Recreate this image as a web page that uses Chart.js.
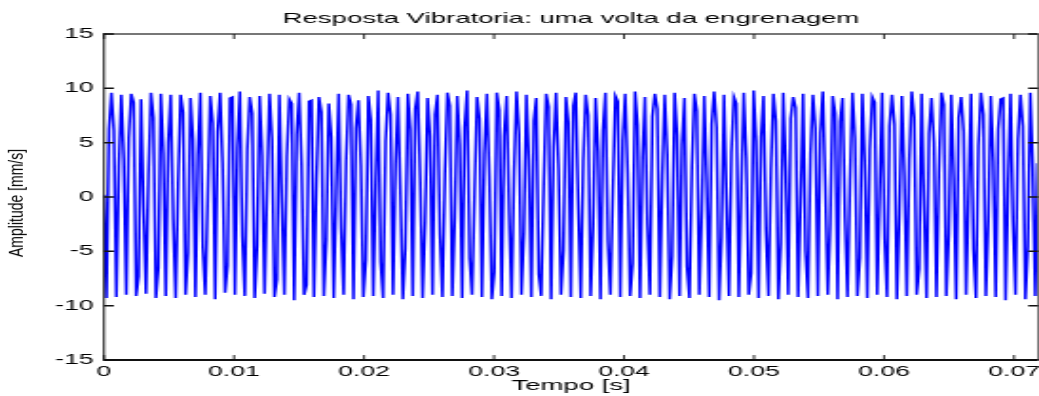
<!DOCTYPE html>
<html>
<head>
<meta charset="utf-8">
<script src="https://cdn.jsdelivr.net/npm/chart.js@4.4.1/dist/chart.umd.min.js"></script>
<style>
  html, body { margin: 0; padding: 0; background: #fff; overflow: hidden; }
  #palco { position: relative; width: 1039px; height: 396px; }
  /* a figura original esta esticada na horizontal */
  #esticado { position: absolute; left: 0; top: 0; width: 547px; height: 396px; transform: scaleX(1.8995); transform-origin: 0 0; }
  #rotuloY { position: absolute; left: 16px; top: 203px; font: 14px 'Liberation Sans', Arial, sans-serif; white-space: nowrap; color: #000;
             transform: translate(-50%, -50%) rotate(-90deg) scaleY(1.4); }
</style>
</head>
<body>
<div id="palco">
  <div id="esticado"><canvas id="grafico" width="547" height="396"></canvas></div>
  <div id="rotuloY">Amplitude [mm/s]</div>
</div>
<script>
// passo de amostragem [s]
const passo = 0.00019;
const tempoMax = 0.07185;

// amplitude [mm/s], amostra a amostra
const amplitude = [
  0.2, -9.3, 6.2,
  9.6, 6.1, -9.2, 2.8,   9.4, 3.5, -9.0, 5.4,   9.5, 8.7, -9.1, -7.3,  9.0, -1.0, -8.9, 2.0,
  9.6, 7.3, -9.3, -6.5,  9.5, 4.0, -9.1, 5.0,   9.4, -2.1, -9.3, 1.2,  9.4, 7.8, -9.0, -5.1,
  9.1, 5.3, -9.2, 3.8,   9.6, -4.6, -9.0, 0.0,  9.3, 6.8, -9.4, 6.0,   9.6, 3.1, -8.8, -6.3,
  9.1, 9.2, -9.0, 4.5,   9.7, -3.6, -9.1, 4.4,  9.2, 7.7, -9.3, -4.4,  9.3, 3.8, -8.9, 0.9,
  9.5, 5.3, -9.2, -7.6,  9.4, -0.5, -9.0, 3.7,  9.0, 8.6, -9.5, 5.7,   9.6, 3.0, -9.0, -8.1,
  8.8, 8.9, -9.2, 1.6,   9.2, 7.8, -9.1, -3.9,  8.6, 5.5, -9.3, 0.5,   9.5, -2.9, -9.0, 3.3,
  9.4, 8.5, -9.4, 6.3,   8.9, 2.9, -9.2, -5.8,  9.3, 7.1, -9.1, 1.3,   9.8, -6.0, -9.3, 5.1,
  9.6, 7.6, -9.0, 3.0,   9.2, 0.2, -9.4, -4.7,  9.5, 6.2, -9.1, 8.1,   9.7, 1.6, -9.3, -2.2,
  9.1, 5.6, -9.0, 7.6,   9.4, -3.4, -9.2, 2.1,  9.6, 8.4, -9.1, -1.8,  9.3, 4.8, -9.3, 6.4,
  9.8, -5.6, -9.0, 0.3,  9.2, 7.2, -9.2, 3.9,   9.5, 1.9, -9.4, -6.9,  9.6, 8.0, -9.1, 5.6,
  9.3, -1.4, -9.3, 2.4,  9.7, 5.9, -9.0, -3.2,  9.4, 3.4, -9.2, 7.0,   9.1, -7.1, -9.1, 1.0,
  9.5, 8.3, -9.4, 4.6,   9.6, 2.6, -9.0, -4.9,  9.2, 6.9, -9.2, 8.4,   9.6, -0.8, -9.3, 3.3,
  9.4, 7.5, -9.1, -2.7,  9.1, 4.2, -9.4, 6.1,   9.6, -4.1, -9.0, 0.6,  9.3, 8.8, -9.2, 5.2,
  9.5, 2.2, -9.1, -6.1,  9.7, 6.6, -9.3, 3.6,   9.2, -2.5, -9.0, 7.4,  9.5, 8.1, -9.2, 1.9,
  9.4, 3.9, -9.4, -5.4,  9.6, 5.7, -9.1, 4.8,   9.1, -6.4, -9.3, 2.7,  9.5, 7.9, -9.0, -1.1,
  9.3, 1.4, -9.2, 6.7,   9.7, 6.4, -9.5, -3.6,  9.4, -0.3, -9.1, 4.1,  9.2, 8.6, -9.2, 0.8,
  9.6, 3.6, -9.0, -7.0,  9.8, 5.1, -9.3, 5.5,   9.3, -3.0, -9.1, 2.5,  9.5, 7.0, -9.4, -4.2,
  9.6, 2.4, -9.0, 7.2,   9.2, 8.2, -9.2, -0.4,  9.5, -5.0, -9.3, 3.9,  9.4, 6.3, -9.1, 5.9,
  9.7, 1.0, -9.0, -2.4,  9.3, 7.7, -9.4, 6.9,   9.1, -1.9, -9.2, 1.5,  9.6, 5.4, -9.1, -5.6,
  9.5, 3.2, -9.3, 4.3,   9.2, 8.7, -9.0, 0.1,   9.6, -3.8, -9.2, 6.5,  9.4, 6.7, -9.4, -1.5,
  9.3, 2.0, -9.1, 3.4,   9.7, 7.3, -9.0, -6.6,  9.5, -0.9, -9.3, 5.8,  9.1, 5.0, -9.2, 2.2,
  9.6, 8.5, -9.1, -3.3,  9.4, 1.7, -9.4, 7.3,   9.2, 6.0, -9.0, 0.4,   9.5, -4.8, -9.3, 4.7,
  9.6, 7.6, -9.1, -2.0,  9.3, 3.3, -9.2, 6.2,   9.0, 9.1, -9.5, 1.1,   9.5, -2.3, -9.0, 5.3,
  9.4, 6.5, -9.4, -4.5,  9.6, 2.7, -9.1, 3.1
];

const xTicks = [0, 0.01, 0.02, 0.03, 0.04, 0.05, 0.06, 0.07];
const yTicks = [-15, -10, -5, 0, 5, 10, 15];

const tempo = amplitude.map((_, i) => i * passo);
const pontos = amplitude.map((v, i) => ({ x: tempo[i], y: v }));

const fonte = "'Liberation Sans', Arial, sans-serif";

// caixa estilo matlab com marcas para dentro
const moldura = {
  id: 'moldura',
  afterDatasetsDraw(chart) {
    const { ctx, chartArea: { left, right, top, bottom }, scales: { x, y } } = chart;
    ctx.save();
    ctx.lineCap = 'butt';
    ctx.strokeStyle = '#777';
    ctx.lineWidth = 2;
    ctx.beginPath(); ctx.moveTo(left, top); ctx.lineTo(right, top); ctx.stroke();
    ctx.lineWidth = 1;
    ctx.beginPath(); ctx.moveTo(right, top); ctx.lineTo(right, bottom); ctx.stroke();
    ctx.strokeStyle = '#111';
    ctx.beginPath(); ctx.moveTo(left, top - 1); ctx.lineTo(left, bottom + 1); ctx.stroke();
    ctx.lineWidth = 2;
    ctx.beginPath(); ctx.moveTo(left, bottom); ctx.lineTo(right, bottom); ctx.stroke();

    ctx.lineWidth = 0.9;
    x.ticks.forEach(t => {
      const px = x.getPixelForValue(t.value);
      ctx.beginPath();
      ctx.moveTo(px, bottom); ctx.lineTo(px, bottom - 5);
      ctx.moveTo(px, top); ctx.lineTo(px, top + 5);
      ctx.stroke();
    });
    ctx.lineWidth = 1.5;
    y.ticks.forEach(t => {
      const py = y.getPixelForValue(t.value);
      ctx.beginPath();
      ctx.moveTo(left, py); ctx.lineTo(left + 5.2, py);
      ctx.moveTo(right, py); ctx.lineTo(right - 5.2, py);
      ctx.stroke();
    });
    ctx.restore();
  }
};

const ctx = document.getElementById('grafico').getContext('2d');
const grafico = new Chart(ctx, {
  type: 'line',
  data: {
    datasets: [{
      data: pontos,
      borderColor: '#0000ff',
      borderWidth: 1.5,
      pointRadius: 0,
      tension: 0,
      fill: false
    }]
  },
  options: {
    responsive: false,
    devicePixelRatio: 1,
    animation: false,
    layout: { padding: { left: 0, right: 0.5, top: 0, bottom: 0 } },
    plugins: {
      legend: { display: false },
      tooltip: { enabled: false },
      title: {
        display: true,
        fullSize: false,
        text: 'Resposta Vibratoria: uma volta da engrenagem',
        color: '#000',
        font: { family: fonte, size: 14.5, weight: 'normal', lineHeight: 1.2 },
        padding: { top: 10, bottom: 6.6 }
      }
    },
    scales: {
      x: {
        type: 'linear',
        min: 0,
        max: tempoMax,
        grid: { display: false, drawTicks: false },
        border: { display: false },
        afterBuildTicks: s => { s.ticks = xTicks.map(v => ({ value: v })); },
        afterFit: s => { s.height = 36; s.paddingLeft = 0; s.paddingRight = 0; },
        ticks: {
          autoSkip: false,
          maxRotation: 0,
          padding: 4,
          color: '#000',
          font: { family: fonte, size: 14 },
          callback: v => String(v)
        },
        title: {
          display: true,
          text: 'Tempo [s]',
          color: '#000',
          font: { family: fonte, size: 14.5 },
          padding: { top: 0, bottom: 1 }
        }
      },
      y: {
        min: -15,
        max: 15,
        grid: { display: false, drawTicks: false },
        border: { display: false },
        afterBuildTicks: s => { s.ticks = yTicks.map(v => ({ value: v })); },
        afterFit: s => { s.width = 54.75; s.paddingTop = 0; s.paddingBottom = 0; },
        ticks: {
          padding: 5.5,
          color: '#000',
          font: { family: fonte, size: 14 },
          callback: v => String(v)
        }
      }
    }
  },
  plugins: [moldura]
});
</script>
</body>
</html>
